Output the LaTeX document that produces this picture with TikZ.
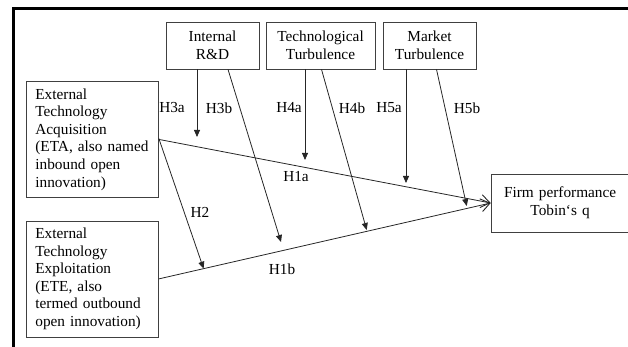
\documentclass[tikz,border=0pt]{standalone}
\usepackage{fontspec}
\setmainfont{Liberation Serif}
\usetikzlibrary{arrows.meta,calc}

\begin{document}
\begin{tikzpicture}[x=1pt, y=-1pt,
      every node/.style = {font=\fontsize{15.3}{17.6}\selectfont, text=black},
      box/.style = {shape=rectangle, draw=black!75, line width=0.8pt,
        align=center, minimum height=47pt},
      sidebox/.style = {box, anchor=north west, align=left,
        text width=114pt, inner xsep=9pt, minimum height=116pt},
      hyp/.style = {inner sep=0pt},
      mainline/.style = {draw=black!85, line width=0.8pt,
        -{Straight Barb[length=9pt,width=13pt,line width=0.9pt]}},
      modline/.style = {draw=black!85, line width=0.8pt,
        -{Triangle[length=7pt,width=6pt]}}]
  \useasboundingbox (0,0) rectangle (628,347);

  % page frame
  \draw[line width=3pt] (13,347) -- (13,8.5) -- (628,8.5);

  % moderators
  \node[box, minimum width=93pt]  (rd)     at (212.5,45.5) {Internal\\R\&D};
  \node[box, minimum width=109pt] (techt)  at (320.5,45.5) {Technological\\Turbulence};
  \node[box, minimum width=93pt]  (markt)  at (429.5,45.5) {Market\\Turbulence};

  % independent variables
  \node[sidebox] (eta) at (26,81)
    {External\\Technology\\Acquisition\\(ETA, also named\\inbound open\\innovation)};
  \node[sidebox] (ete) at (26,220.5)
    {External\\Technology\\Exploitation\\(ETE, also\\termed outbound\\open innovation)};

  % dependent variable
  \node[box, anchor=west, text width=120pt, inner xsep=9pt, minimum height=58pt]
    (firm) at (490.7,203) {Firm performance\\Tobin`s q};

  % main effects
  \draw[mainline] (eta.east) -- (firm.west);
  \draw[mainline] (ete.east) -- (firm.west);

  % tips of the moderating arrows
  \coordinate (h2)  at ($(ete.east)!0.135!(firm.west)$);
  \coordinate (h3a) at (197,137);
  \coordinate (h3b) at (281,242);
  \coordinate (h4a) at (305,160);
  \coordinate (h4b) at (366.7,230);
  \coordinate (h5a) at (406,183);
  \coordinate (h5b) at (466.7,206);

  \draw[modline] ([yshift=1pt]eta.east) -- (h2);
  \draw[modline] (h3a |- rd.south) -- (h3a);
  \draw[modline] ([xshift=15.5pt]rd.south) -- (h3b);
  \draw[modline] (h4a |- techt.south) -- (h4a);
  \draw[modline] ([xshift=1pt]techt.south) -- (h4b);
  \draw[modline] (h5a |- markt.south) -- (h5a);
  \draw[modline] ([xshift=7pt]markt.south) -- (h5b);

  % hypothesis labels
  \node[hyp] (l3a) at (172,108) {H3a};
  \node[hyp] (l3b) at (219,108) {H3b};
  \node[hyp] (l4a) at (289,108) {H4a};
  \node[hyp] (l4b) at (352,108) {H4b};
  \node[hyp] (l5a) at (389,108) {H5a};
  \node[hyp] (l5b) at (467,108) {H5b};
  \node[hyp] (l1a) at (296,177) {H1a};
  \node[hyp] (l2)  at (200,212) {H2};
  \node[hyp] (l1b) at (282,269) {H1b};
\end{tikzpicture}
\end{document}
